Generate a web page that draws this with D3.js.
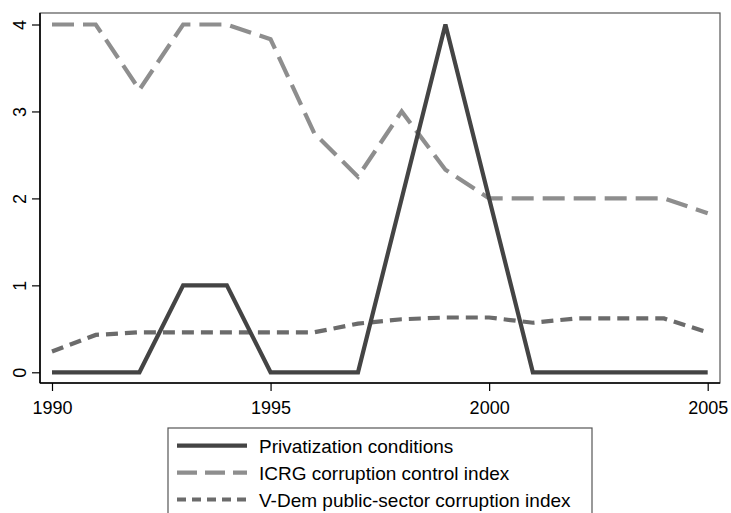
<!DOCTYPE html>
<html>
<head>
<meta charset="utf-8">
<script src="https://cdn.jsdelivr.net/npm/d3@7"></script>
<style>
  html, body { margin: 0; padding: 0; background: #fff; }
  svg { display: block; font-family: "Liberation Sans", Arial, sans-serif; }
</style>
</head>
<body>
<svg id="chart" width="731" height="513"></svg>
<script>
const years = [1990,1991,1992,1993,1994,1995,1996,1997,1998,1999,2000,2001,2002,2003,2004,2005];
const privatization = [0,0,0,1,1,0,0,0,2,4,2,0,0,0,0,0];
const icrg = [4,4,3.25,4,4,3.83,2.75,2.25,3,2.33,2,2,2,2,2,1.83];
const vdem = [0.24,0.43,0.46,0.46,0.46,0.46,0.46,0.56,0.61,0.63,0.63,0.57,0.62,0.62,0.62,0.46];
const xTicks = [1990,1995,2000,2005];
const yTicks = [0,1,2,3,4];
const seriesNames = ["Privatization conditions","ICRG corruption control index","V-Dem public-sector corruption index"];

const svg = d3.select("#chart");
const frame = {left: 40, right: 720, top: 13, bottom: 383};
const x = d3.scaleLinear().domain([1990,2005]).range([52, 707.7]);
const y = d3.scaleLinear().domain([0,4]).range([372.3, 24.5]);

// frame (top/right)
svg.append("rect")
  .attr("x", frame.left).attr("y", frame.top)
  .attr("width", frame.right - frame.left).attr("height", frame.bottom - frame.top)
  .attr("fill", "none").attr("stroke", "#555").attr("stroke-width", 1.2);

const styles = [
  {data: privatization, color: "#444444", width: 4.2, dash: null},
  {data: icrg, color: "#8e8e8e", width: 4.2, dash: "22,9"},
  {data: vdem, color: "#6b6b6b", width: 4.2, dash: "12,7"}
];

const line = d3.line().x((d,i) => x(years[i])).y(d => y(d));

// draw order: vdem, icrg, privatization on top
[2,1,0].forEach(k => {
  const s = styles[k];
  svg.append("path")
    .datum(s.data)
    .attr("d", line)
    .attr("fill", "none")
    .attr("stroke", s.color)
    .attr("stroke-width", s.width)
    .attr("stroke-linejoin", "miter")
    .attr("stroke-dasharray", s.dash);
});

// x axis
const xAxis = svg.append("g")
  .attr("transform", `translate(0,${frame.bottom})`)
  .call(d3.axisBottom(x).tickValues(xTicks).tickFormat(d3.format("d")).tickSize(8).tickSizeOuter(0));
xAxis.select(".domain").attr("d", `M${frame.left},0H${frame.right}`).attr("stroke", "#000").attr("stroke-width", 1.6);
xAxis.selectAll(".tick line").attr("stroke", "#000").attr("stroke-width", 1.2);
xAxis.selectAll(".tick text").attr("font-size", 18).attr("fill", "#000").attr("dy", "0").attr("y", 31);

// y axis
const yAxis = svg.append("g")
  .attr("transform", `translate(${frame.left},0)`)
  .call(d3.axisLeft(y).tickValues(yTicks).tickFormat(d3.format("d")).tickSize(8).tickSizeOuter(0));
yAxis.select(".domain").attr("d", `M0,${frame.top}V${frame.bottom}`).attr("stroke", "#000").attr("stroke-width", 1.6);
yAxis.selectAll(".tick line").attr("stroke", "#000").attr("stroke-width", 1.2);
yAxis.selectAll(".tick text")
  .attr("font-size", 18).attr("fill", "#000")
  .attr("x", null).attr("dy", null)
  .attr("text-anchor", "middle")
  .attr("transform", "translate(-14,0) rotate(-90)")
  .attr("y", 0);

// legend
const lg = svg.append("g");
lg.append("rect")
  .attr("x", 168).attr("y", 428).attr("width", 424).attr("height", 100)
  .attr("fill", "#fff").attr("stroke", "#555").attr("stroke-width", 1.2);
const rowY = [445.7, 472.7, 499.5];
seriesNames.forEach((name, i) => {
  const s = styles[i];
  lg.append("line")
    .attr("x1", 177).attr("x2", 247).attr("y1", rowY[i]).attr("y2", rowY[i])
    .attr("stroke", s.color).attr("stroke-width", s.width)
    .attr("stroke-dasharray", i === 1 ? "20,8" : (i === 2 ? "9,6" : null));
  lg.append("text")
    .attr("x", 259).attr("y", rowY[i] + 7)
    .attr("font-size", 19).attr("fill", "#000")
    .text(name);
});
</script>
</body>
</html>
